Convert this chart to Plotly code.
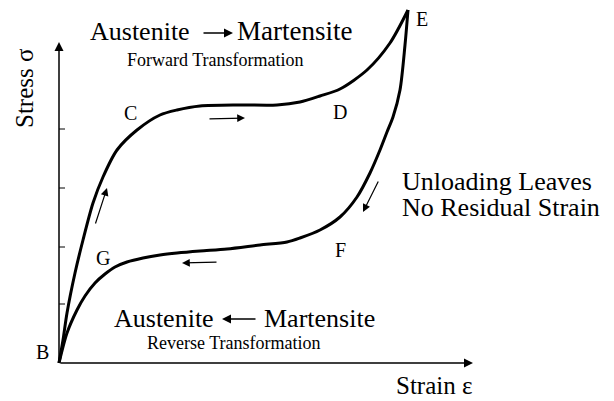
import plotly.graph_objects as go

# ---- data (strain / stress in arbitrary plot units) ----
load_strain = [0, 4, 8, 16, 24, 34, 44, 58, 78, 101, 118, 141, 181, 218, 241, 261, 281, 308, 331, 349]
load_stress = [0, 23, 50, 90, 123, 160, 186, 213, 233, 248, 253, 257, 258, 258, 261, 267, 274, 293, 320, 353]

unload_strain = [349, 346, 341, 334, 328, 321, 311, 298, 281, 261, 241, 228, 201, 168, 141, 118, 101, 84, 68, 56, 46, 36, 26, 18, 8, 0]
unload_stress = [353, 318, 273, 246, 231, 213, 190, 166, 146, 133, 125, 121, 118, 114, 112, 110, 108, 105, 101, 96, 89, 80, 67, 53, 30, 0]

stress_ticks = [59, 116, 175, 234]

point_labels = ["B", "C", "D", "E", "F", "G"]
point_strain = [-17, 71, 281, 363, 281, 44]
point_stress = [11, 250, 251, 344, 113, 105]

SERIF = "Liberation Serif, Times New Roman, serif"

fig = go.Figure()
fig.add_trace(go.Scatter(x=load_strain, y=load_stress, mode="lines",
                         line=dict(color="black", width=3, shape="spline", smoothing=0.8),
                         hoverinfo="skip", showlegend=False))
fig.add_trace(go.Scatter(x=unload_strain, y=unload_stress, mode="lines",
                         line=dict(color="black", width=3, shape="spline", smoothing=0.8),
                         hoverinfo="skip", showlegend=False))

ann = []

def arrow(x0, y0, x1, y1, width=1.2, size=1.0, head=2):
    ann.append(dict(x=x1, y=y1, ax=x0, ay=y0, xref="x", yref="y", axref="x", ayref="y",
                    text="", showarrow=True, arrowhead=head, arrowsize=size,
                    arrowwidth=width, arrowcolor="black"))

def label(x, y, t, size, xanchor="center", yanchor="middle", angle=0):
    ann.append(dict(x=x, y=y, xref="x", yref="y", text=t, showarrow=False,
                    xanchor=xanchor, yanchor=yanchor, textangle=angle,
                    font=dict(family=SERIF, size=size, color="black")))

# axes with arrowheads
arrow(0, 0, 0, 321, width=1.5, size=1.2)
arrow(0, 0, 414, 0, width=1.5, size=1.2)

# direction arrows along the curves
arrow(36, 138, 48, 175, width=1.2, size=1.3)
arrow(149, 244, 186, 245, width=1.2, size=1.3)
arrow(320, 183, 304, 151, width=1.2, size=1.3)
arrow(159, 101, 123, 100, width=1.2, size=1.3)

# arrows in the phase labels
arrow(143, 330, 174, 330, width=1.5, size=1.2)
arrow(198, 44, 163, 44, width=1.5, size=1.2)

# texts
label(133, 332, "Austenite", 26, xanchor="right")
label(176, 332, "Martensite", 27, xanchor="left")
label(156, 303, "Forward Transformation", 18)
label(157, 45, "Austenite", 26, xanchor="right")
label(203, 45, "Martensite", 26, xanchor="left")
label(174, 20, "Reverse Transformation", 18)
label(341, 182, "Unloading Leaves", 26, xanchor="left")
label(341, 156, "No Residual Strain", 26, xanchor="left")
label(375, -22, "Strain ε", 25)
label(-35, 275, "Stress σ", 25, angle=-90)

for t, xs, ys in zip(point_labels, point_strain, point_stress):
    label(xs, ys, t, 20)

shapes = []
for ty in stress_ticks:
    shapes.append(dict(type="line", xref="x", yref="y", x0=0, x1=6, y0=ty, y1=ty,
                       line=dict(color="black", width=1)))

# the page body adds an 8 px margin; ranges are offset so the drawing lands in place
fig.update_layout(
    width=614, height=401,
    margin=dict(l=0, r=0, t=0, b=0),
    paper_bgcolor="white", plot_bgcolor="white",
    xaxis=dict(range=[-51, 563], visible=False, fixedrange=True),
    yaxis=dict(range=[-46, 355], visible=False, fixedrange=True),
    annotations=ann, shapes=shapes,
)

fig.write_html("out.html")
